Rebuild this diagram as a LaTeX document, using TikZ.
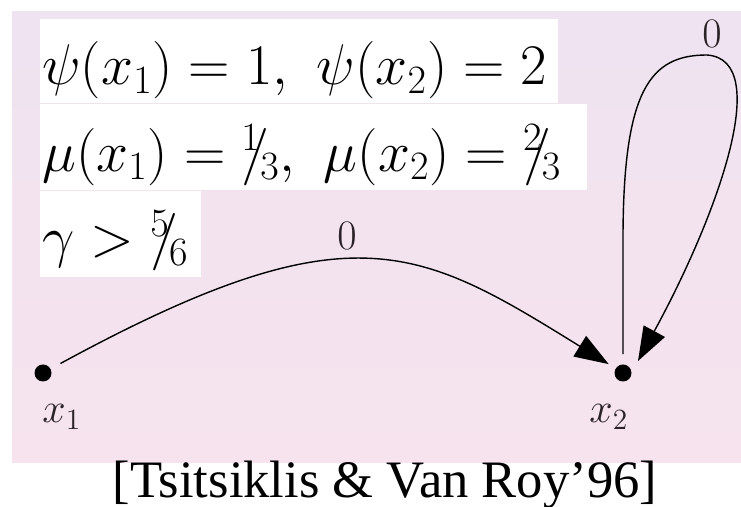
\RequirePackage{fix-cm}
\documentclass[tikz,border=0pt]{standalone}
\usepackage[no-math]{fontspec}
\usepackage{amsmath}
\usetikzlibrary{arrows.meta,positioning}
\newfontfamily\citefont{Liberation Serif}
\definecolor{bgtop}{HTML}{EFE3F1}
\definecolor{bgbot}{HTML}{F6E3ED}
\definecolor{labink}{HTML}{2A2226}
\newcommand{\sfr}[2]{{}^{#1}\!\!/\!_{#2}}

\begin{document}
\begin{tikzpicture}[
  x=0.5pt, y=-0.5pt,
  panel/.style={fill=white, inner ysep=0pt, inner xsep=1pt, align=left, font=\fontsize{28.7}{30}\selectfont},
  state/.style={circle, fill=black, inner sep=0pt, minimum size=8.5pt},
  lab/.style={font=\fontsize{21}{24}\selectfont, text=labink, inner sep=0pt},
  arr/.style={-{Triangle[length=17pt, width=12pt]}, line width=0.7pt}
]
\useasboundingbox (0,0) rectangle (741,507);
\shade[top color=bgtop, bottom color=bgbot] (12,12) rectangle (741,463);

% parameter panel
\node[panel, anchor=north west, text width=257pt, text height=32.5pt, text depth=9.5pt] (psi) at (40,19)
  {$\psi(x_1) = 1,\ \psi(x_2) = 2$};
\node[panel, below=0pt of psi.south west, anchor=north west, text width=271.5pt, text height=33.5pt, text depth=9.5pt] (mu)
  {$\mu(x_1) = \sfr{1}{3},\ \mu(x_2) = \sfr{2}{3}$};
\node[panel, below=0pt of mu.south west, anchor=north west, text width=78.5pt, text height=33pt, text depth=10pt] (gamma)
  {$\gamma > \sfr{5}{6}$};

% states
\node[state] (x1) at (43,373) {};
\node[state] (x2) at (623,373) {};
\node[lab, anchor=base west] (x1 name) at (42,423) {$x_1$};
\node[lab, anchor=base west] (x2 name) at (589,423) {$x_2$};
\coordinate (x2 in) at (638,361);

% transitions
\draw[arr, shorten <=5.5pt, shorten >=4pt] (x1) .. controls (350,206) and (418,246) .. node[lab, pos=0.45, above=5.5pt] (w12) {$0$} (x2);
\draw[arr, shorten <=5pt] (x2) -- (623,240) .. controls (623,90) and (650,55) .. (707,55)
  node[lab, above=3.5pt, xshift=2.5pt] (w22) {$0$} .. controls (775,60) and (715,220) .. (x2 in);

\node[font=\citefont\fontsize{26.3}{28}\selectfont, anchor=base] (cite) at (385,498) {[Tsitsiklis \& Van Roy’96]};
\end{tikzpicture}
\end{document}
